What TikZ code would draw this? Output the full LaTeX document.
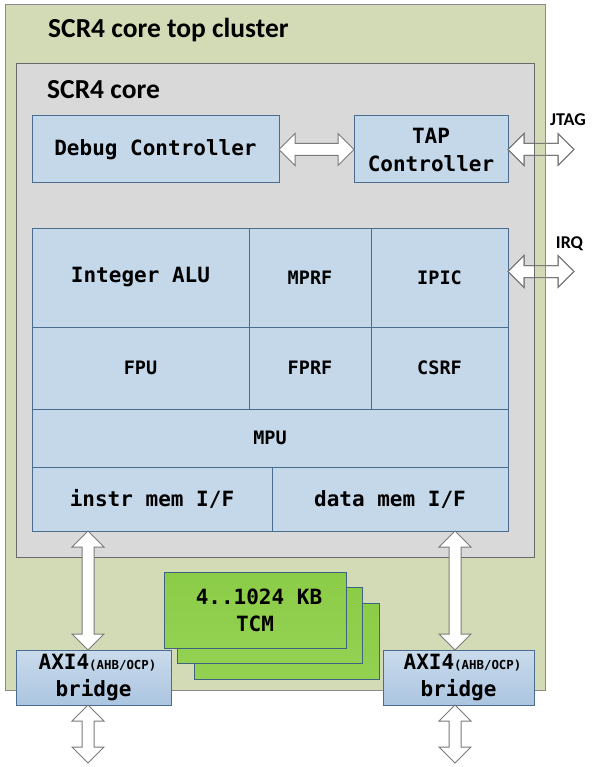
\documentclass[tikz,border=0pt]{standalone}
\usepackage{fontspec}
\setmainfont{Carlito}
\newfontfamily\monofam{DejaVu Sans Mono}
\usetikzlibrary{calc}
\definecolor{clusterfill}{HTML}{D3DBB6}
\definecolor{clusterline}{HTML}{8A8A8A}
\definecolor{corefill}{HTML}{D9D9D9}
\definecolor{coreline}{HTML}{6A6A6A}
\definecolor{bluefill}{HTML}{C5D8EA}
\definecolor{bluetop}{HTML}{CADBEC}
\definecolor{bluebot}{HTML}{ABC5E0}
\definecolor{blueline}{HTML}{4A6D8F}
\definecolor{greentop}{HTML}{8BCC47}
\definecolor{greenbot}{HTML}{93D152}
\definecolor{greenline}{HTML}{3F6283}
\definecolor{arrowline}{HTML}{7A7A7A}
\newcommand\hbiarrow[3]{\path[#1] (#2) -- ($(#2)+(16,-16)$) -- ($(#2)+(16,-6)$) -- ($(#3)+(-16,-6)$) -- ($(#3)+(-16,-16)$) -- (#3) -- ($(#3)+(-16,16)$) -- ($(#3)+(-16,6)$) -- ($(#2)+(16,6)$) -- ($(#2)+(16,16)$) -- cycle;}
\newcommand\vbiarrow[3]{\path[#1] (#2) -- ($(#2)+(16,16)$) -- ($(#2)+(6,16)$) -- ($(#3)+(6,-16)$) -- ($(#3)+(16,-16)$) -- (#3) -- ($(#3)+(-16,-16)$) -- ($(#3)+(-6,-16)$) -- ($(#2)+(-6,16)$) -- ($(#2)+(-16,16)$) -- cycle;}
\begin{document}
\begin{tikzpicture}[x=1pt,y=-1pt,
  box/.style={draw, inner sep=0pt, outer sep=0pt, anchor=north west, line width=1pt},
  bluebox/.style={box, fill=bluefill, draw=blueline, align=center, font=\monofam\bfseries\fontsize{21}{28}\selectfont},
  smallbox/.style={bluebox, font=\monofam\bfseries\fontsize{18.5}{24}\selectfont},
  bridgebox/.style={box, draw=blueline, top color=bluetop, bottom color=bluebot, align=center, font=\monofam\bfseries\fontsize{21}{27}\selectfont},
  tcmbox/.style={box, draw=greenline, top color=greentop, bottom color=greenbot, align=center, font=\monofam\bfseries\fontsize{21}{27}\selectfont},
  blockarrow/.style={draw=arrowline, fill=white, line width=1pt, line join=miter},
  arrowoutline/.style={draw=arrowline, line width=1pt, line join=miter},
  title/.style={anchor=west, inner sep=0pt, font=\bfseries\fontsize{27.5}{32}\selectfont},
  sig/.style={inner sep=0pt, font=\bfseries\fontsize{18}{21}\selectfont}]
\useasboundingbox (0,0) rectangle (592,767);
% containers
\node[box, fill=clusterfill, draw=clusterline, minimum width=540pt, minimum height=685pt] (cluster) at (5,5) {};
\node[title] (clustertitle) at (48,30) {SCR4 core top cluster};
\node[box, fill=corefill, draw=coreline, minimum width=518pt, minimum height=493pt] (core) at (16,64) {};
\node[title] (coretitle) at (47,89.5) {SCR4 core};
% debug
\node[bluebox, minimum width=247pt, minimum height=67pt] (dbg) at (32,116) {Debug Controller};
\node[bluebox, minimum width=154pt, minimum height=67pt] (tap) at (354,116) {TAP\\Controller};
% grid
\node[bluebox, minimum width=217pt, minimum height=99pt] (alu) at (32,228) {Integer ALU};
\node[smallbox, minimum width=122pt, minimum height=99pt] (mprf) at (249,228) {MPRF};
\node[smallbox, minimum width=137pt, minimum height=99pt] (ipic) at (371,228) {IPIC};
\node[smallbox, minimum width=217pt, minimum height=82pt] (fpu) at (32,327) {FPU};
\node[smallbox, minimum width=122pt, minimum height=82pt] (fprf) at (249,327) {FPRF};
\node[smallbox, minimum width=137pt, minimum height=82pt] (csrf) at (371,327) {CSRF};
\node[smallbox, minimum width=476pt, minimum height=58pt] (mpu) at (32,409) {MPU};
\node[bluebox, minimum width=240pt, minimum height=64pt] (instr) at (32,467) {instr mem I/F};
\node[bluebox, minimum width=236pt, minimum height=64pt] (data) at (272,467) {data mem I/F};
% TCM stack
\node[tcmbox, minimum width=185pt, minimum height=76pt] (tcmc) at (194,603) {};
\node[tcmbox, minimum width=185pt, minimum height=76pt] (tcmb) at (177,587) {};
\node[tcmbox, minimum width=182pt, minimum height=76pt] (tcma) at (164,572) {\hspace*{8pt}4..1024 KB\\TCM};
% bridges
\node[bridgebox, minimum width=155pt, minimum height=55pt] (bridgeL) at (16,650) {\hspace*{8pt}AXI4{\fontsize{12.4}{14}\selectfont(AHB/OCP)}\\bridge};
\node[bridgebox, minimum width=151pt, minimum height=55pt] (bridgeR) at (383,650) {\hspace*{8pt}AXI4{\fontsize{12.4}{14}\selectfont(AHB/OCP)}\\bridge};
% signal labels
\node[sig] (jtaglbl) at (568,119.5) {JTAG};
\node[sig] (irqlbl) at (569.5,244) {IRQ};
% arrow anchor coordinates
\coordinate (jtagend) at (574,149.5);
\coordinate (irqa) at ($(ipic.east)+(0,-6)$);
\coordinate (irqend) at (574,271.5);
\coordinate (ax) at (88,0);
\coordinate (bx) at (455,0);
\coordinate (axend) at (88,763);
\coordinate (bxend) at (455,763);
% arrows
\hbiarrow{blockarrow}{dbg.east}{tap.west}
\hbiarrow{blockarrow}{tap.east}{jtagend}
\hbiarrow{blockarrow}{irqa}{irqend}
\vbiarrow{blockarrow}{instr.south -| ax}{bridgeL.north -| ax}
\vbiarrow{blockarrow}{data.south -| bx}{bridgeR.north -| bx}
\vbiarrow{blockarrow}{bridgeL.south -| ax}{axend}
\vbiarrow{blockarrow}{bridgeR.south -| bx}{bxend}
% olive band of the cluster over the external arrow shafts
\fill[clusterfill] ($(core.north east)+(0.5,0)$) rectangle ($(cluster.east |- core.south)+(-0.5,0)$);
\hbiarrow{arrowoutline}{tap.east}{jtagend}
\hbiarrow{arrowoutline}{irqa}{irqend}
\draw[coreline, line width=1pt] (core.north east) -- (core.south east);
\draw[clusterline, line width=1pt] (cluster.north east) -- (cluster.south east);
\end{tikzpicture}
\end{document}
